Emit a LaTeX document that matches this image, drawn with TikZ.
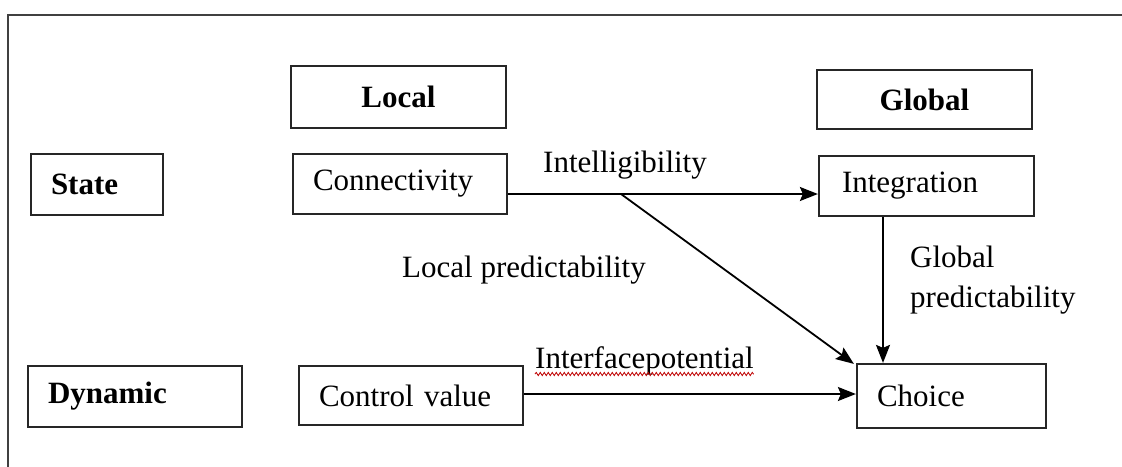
\documentclass[tikz,border=0pt]{standalone}
\usepackage{fontspec}
\setmainfont{Liberation Serif}
\usetikzlibrary{arrows.meta,decorations.pathmorphing}
\begin{document}
\begin{tikzpicture}[x=1pt,y=-1pt,
  font=\fontsize{31}{40}\selectfont,
  box/.style={draw=black!85, line width=2.2pt, minimum height=#1, inner ysep=0pt},
  leftbox/.style 2 args={box=#2, text width=#1-40pt, inner xsep=20pt, align=left},
  centerbox/.style 2 args={box=#2, minimum width=#1, inner xsep=0pt},
  head/.style={font=\fontsize{31}{40}\selectfont\bfseries},
  link/.style={line width=1.8pt, -{Stealth[length=18pt,width=14pt,inset=3pt]}},
  lbl/.style={inner sep=0pt}]
\useasboundingbox (0,0) rectangle (1122,466);
% outer frame (continues past the right and bottom edges)
\draw[line width=2.2pt, black!75] (1140,15) -- (8,15) -- (8,480);

% column headings
\node[centerbox={215pt}{62pt}, head] (local) at (398.5,97) {Local};
\node[centerbox={215pt}{59pt}, head] (global) at (924.5,99.5) {Global};

% row headings
\node[leftbox={132pt}{61pt}, head] (state) at (97,184.5) {State};
\node[leftbox={214pt}{61pt}, head] (dynamic) at (135,396.5) {Dynamic};

% measures
\node[leftbox={214pt}{60pt}] (conn) at (400,184) {Connectivity};
\node[leftbox={215pt}{60pt}, inner xsep=23pt, text width=169pt] (integ) at (926.5,186) {Integration};
\node[leftbox={224pt}{59pt}] (control) at (411,395.5) {Control value};
\node[leftbox={189pt}{64pt}] (choice) at (951.5,396) {Choice};

% connectors
\coordinate (split) at (621,194);
\draw[link] ([yshift=-10pt]conn.east) -- ([yshift=-10pt]conn.east -| integ.west);
\draw[link] (split) -- ([xshift=-2pt,yshift=-1pt]choice.north west);
\draw[link] ([xshift=-43.5pt]integ.south) -- ([xshift=-43.5pt]integ.south |- choice.north);
\draw[link] ([yshift=1.5pt]control.east) -- ([yshift=1.5pt]control.east -| choice.west);

% connector labels
\node[lbl, anchor=base west] (intel) at (543,172) {Intelligibility};
\node[lbl, anchor=base west] (locpred) at (402,277) {Local predictability};
\node[lbl, anchor=west, align=left] (globpred) at (910,280) {Global\\predictability};
\node[lbl, anchor=base west] (ifp) at (535,368) {Interfacepotential};
\draw[red!75!black, line width=0.8pt,
      decorate, decoration={snake, amplitude=1.6pt, segment length=4pt}]
  ([yshift=-6pt]ifp.base west) -- ([yshift=-6pt]ifp.base east);
\end{tikzpicture}
\end{document}
